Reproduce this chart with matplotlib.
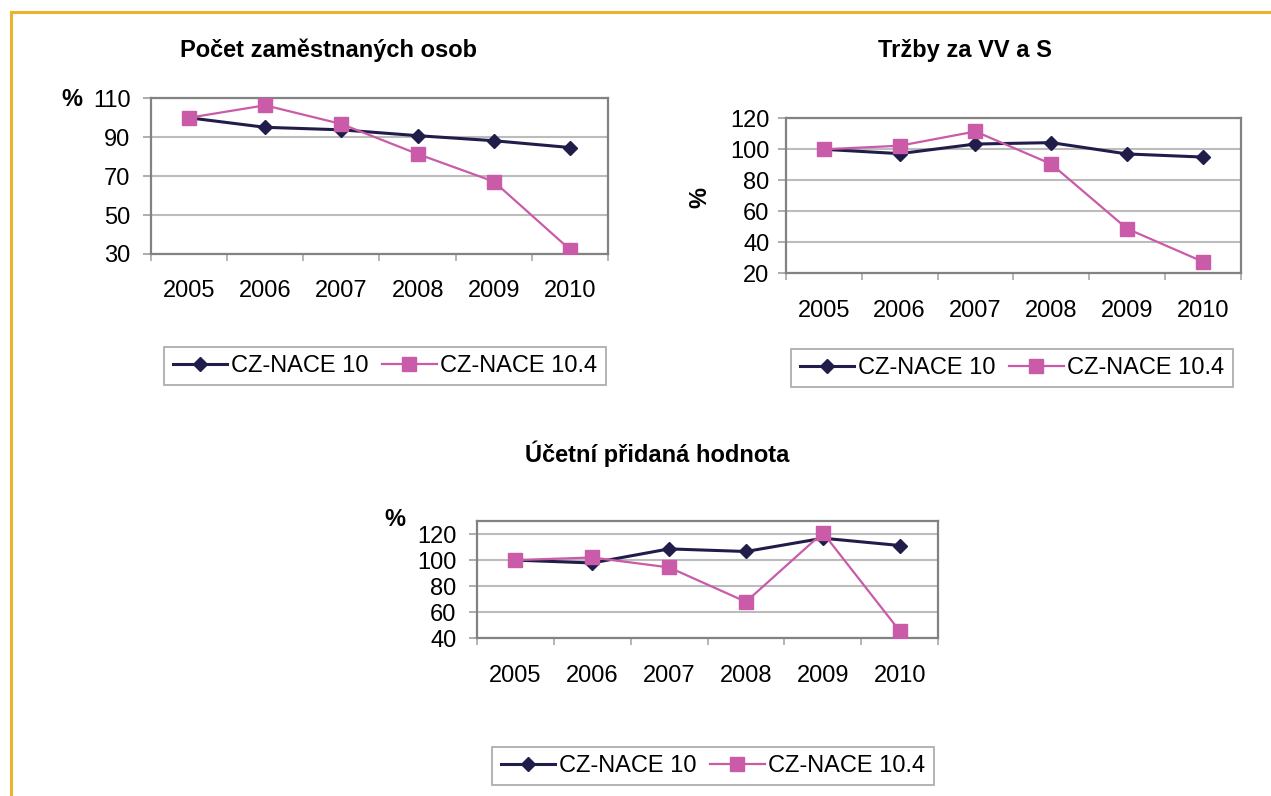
import matplotlib

matplotlib.use("Agg")
import matplotlib.pyplot as plt
from matplotlib.lines import Line2D
import numpy as np

plt.rcParams["font.family"] = ["Liberation Sans", "DejaVu Sans"]

# data (index 2005 = 100)
years = ["2005", "2006", "2007", "2008", "2009", "2010"]
series_names = ["CZ-NACE 10", "CZ-NACE 10.4"]

zam_nace10 = [100, 95.1, 93.8, 90.8, 88.2, 84.7]
zam_nace104 = [100, 106.4, 96.8, 81.4, 67.2, 32.2]

trz_nace10 = [100, 97.2, 103.4, 104.3, 97.0, 95.0]
trz_nace104 = [100, 102.3, 111.5, 90.5, 48.8, 27.5]

upr_nace10 = [100, 97.8, 108.6, 106.6, 116.8, 111.2]
upr_nace104 = [100, 102.0, 94.4, 68.0, 121.0, 45.5]

titles = ["Počet zaměstnaných osob", "Tržby za VV a S", "Účetní přidaná hodnota"]

W, H = 1271, 796
navy = "#211d4b"
pink = "#c95ba8"
gray = "#828282"
grid_gray = "#bcbcbc"

fig = plt.figure(figsize=(W / 100, H / 100), dpi=100)


def px(x, y):
    # pixel -> figure fraction
    return x / W, 1 - y / H


def panel(rect, s1, s2, ylim, yticks, ypad, title, title_xy, legend_xy):
    left, top, right, bottom = rect
    ax = fig.add_axes([left / W, 1 - bottom / H, (right - left) / W, (bottom - top) / H])
    x = np.arange(len(years))
    ax.plot(x, s1, color=navy, lw=2.2, marker="D", ms=6.8, label=series_names[0], zorder=3)
    ax.plot(x, s2, color=pink, lw=1.6, marker="s", ms=9.5, label=series_names[1], zorder=4)

    ax.set_xlim(-0.5, len(years) - 0.5)
    ax.set_ylim(*ylim)
    ax.set_yticks(yticks)
    ax.set_xticks(x)
    ax.set_xticklabels(years)
    # tick marks sit between the categories, like in excel
    ax.set_xticks(np.arange(-0.5, len(years), 1), minor=True)
    ax.tick_params(axis="x", which="major", length=0, pad=19, labelsize=17)
    ax.tick_params(axis="x", which="minor", length=5, width=1.2, color="#a8a8a8")
    ax.tick_params(axis="y", length=5.5, width=1.2, color="#a0a0a0", pad=ypad, labelsize=17)

    ax.yaxis.grid(True, color=grid_gray, lw=1.5)
    ax.set_axisbelow(True)
    for sp in ax.spines.values():
        sp.set_color(gray)
        sp.set_linewidth(1.6)

    fig.text(*px(*title_xy), title, ha="center", va="baseline", fontsize=17, fontweight="bold")

    leg = ax.legend(loc="center", bbox_to_anchor=px(*legend_xy), bbox_transform=fig.transFigure,
                    ncol=2, fontsize=17, frameon=True, fancybox=False, borderpad=0.35,
                    handlelength=2.3, handletextpad=0.15, columnspacing=0.6)
    leg.get_frame().set_edgecolor("#9a9a9a")
    leg.get_frame().set_linewidth(1.3)
    return ax


panel((150.7, 98.3, 608.3, 254), zam_nace10, zam_nace104, (30, 110), [30, 50, 70, 90, 110], 9,
      titles[0], (328, 57), (385, 366))
fig.text(*px(71.5, 99.5), "%", ha="center", va="center", fontsize=17, fontweight="bold")

panel((786, 118.3, 1240.7, 273.3), trz_nace10, trz_nace104, (20, 120), [20, 40, 60, 80, 100, 120], 6.5,
      titles[1], (965, 57), (1012, 368))
fig.text(*px(700, 197), "%", ha="center", va="center", rotation=90, fontsize=17, fontweight="bold")

panel((476.7, 521, 938.3, 638.3), upr_nace10, upr_nace104, (40, 130), [40, 60, 80, 100, 120], 9,
      titles[2], (657, 462), (713, 766))
fig.text(*px(395, 519), "%", ha="center", va="center", fontsize=17, fontweight="bold")

# orange frame, top and left edge
frame_col = "#ebb22c"
fig.add_artist(Line2D([10.5 / W, 1], [1 - 11.5 / H, 1 - 11.5 / H], color=frame_col, lw=2.2))
fig.add_artist(Line2D([10.5 / W, 10.5 / W], [0, 1 - 11.5 / H], color=frame_col, lw=2.2))

fig.savefig("out.png", dpi=100, facecolor="white")
